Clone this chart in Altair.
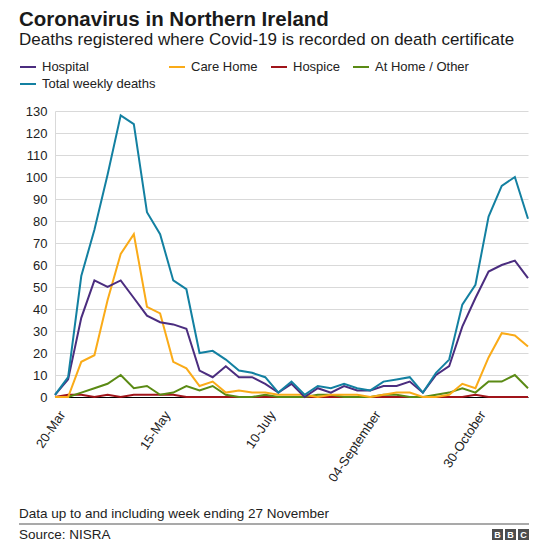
import altair as alt
import pandas as pd

# ---------------- data ----------------
weeks = [
    "2020-03-20", "2020-03-27", "2020-04-03", "2020-04-10", "2020-04-17", "2020-04-24",
    "2020-05-01", "2020-05-08", "2020-05-15", "2020-05-22", "2020-05-29", "2020-06-05",
    "2020-06-12", "2020-06-19", "2020-06-26", "2020-07-03", "2020-07-10", "2020-07-17",
    "2020-07-24", "2020-07-31", "2020-08-07", "2020-08-14", "2020-08-21", "2020-08-28",
    "2020-09-04", "2020-09-11", "2020-09-18", "2020-09-25", "2020-10-02", "2020-10-09",
    "2020-10-16", "2020-10-23", "2020-10-30", "2020-11-06", "2020-11-13", "2020-11-20",
    "2020-11-27",
]
hospital = [1, 8, 36, 53, 50, 53, 45, 37, 34, 33,
            31, 12, 9, 14, 9, 9, 6, 2, 6, 0,
            4, 2, 5, 3, 3, 5, 5, 7, 2, 10,
            14, 32, 45, 57, 60, 62, 54]
care_home = [0, 0, 16, 19, 44, 65, 74, 41, 38, 16,
             13, 5, 7, 2, 3, 2, 2, 1, 1, 1,
             0, 1, 1, 1, 0, 1, 2, 2, 0, 0,
             1, 6, 4, 18, 29, 28, 23]
hospice = [0, 1, 1, 0, 1, 0, 1, 1, 1, 1,
           0, 0, 0, 0, 0, 0, 0, 0, 0, 0,
           0, 0, 0, 0, 0, 0, 0, 0, 0, 0,
           0, 0, 1, 0, 0, 0, 0]
at_home = [0, 0, 2, 4, 6, 10, 4, 5, 1, 2,
           5, 3, 5, 1, 0, 0, 1, 0, 0, 0,
           1, 1, 0, 0, 0, 1, 1, 0, 0, 1,
           2, 4, 2, 7, 7, 10, 4]
total = [1, 9, 55, 76, 101, 128, 124, 84, 74, 53,
         49, 20, 21, 17, 12, 11, 9, 2, 7, 1,
         5, 4, 6, 4, 3, 7, 8, 9, 2, 11,
         17, 42, 51, 82, 96, 100, 81]

series_names = ["Hospital", "Care Home", "Hospice", "At Home / Other", "Total weekly deaths"]
series_colors = ["#4B2D7F", "#FAAB18", "#A0141A", "#5A8A14", "#1380A1"]
series_values = {
    "Hospital": hospital,
    "Care Home": care_home,
    "Hospice": hospice,
    "At Home / Other": at_home,
    "Total weekly deaths": total,
}
draw_order = ["Hospice", "At Home / Other", "Care Home", "Hospital", "Total weekly deaths"]

tick_dates = ["2020-03-20", "2020-05-15", "2020-07-10", "2020-09-04", "2020-10-30"]
tick_labels = ["20-Mar", "15-May", "10-July", "04-September", "30-October"]
y_ticks = list(range(0, 131, 10))

title_text = "Coronavirus in Northern Ireland"
subtitle_text = "Deaths registered where Covid-19 is recorded on death certificate"
note_text = "Data up to and including week ending 27 November"
source_text = "Source: NISRA"
logo_letters = ["B", "B", "C"]

# ---------------- build ----------------
rows = []
for s in draw_order:
    for w, v in zip(weeks, series_values[s]):
        rows.append({"week": w, "series": s, "value": v})
df = pd.DataFrame(rows)

FONT = "Liberation Sans"


def dt(iso):
    y, m, d = (int(p) for p in iso.split("-"))
    return alt.DateTime(year=y, month=m, date=d, utc=True)


label_expr = " : ".join(
    f"utcFormat(datum.value, '%Y-%m-%d') == '{d}' ? '{l}'" for d, l in zip(tick_dates, tick_labels)
) + " : ''"

W, H = 473, 286

lines = alt.Chart(df).mark_line(strokeWidth=2).encode(
    x=alt.X(
        "week:T",
        scale=alt.Scale(type="utc", domain=[dt(weeks[0]), dt(weeks[-1])], nice=False),
        axis=alt.Axis(
            title=None, values=[dt(d) for d in tick_dates], labelExpr=label_expr,
            labelAngle=-56, labelFontSize=13, labelFont=FONT, labelColor="#222222",
            ticks=False, grid=False, domainColor="#000000", domainWidth=1,
            labelPadding=15, labelOffset=7, labelOverlap=False, labelFlush=False,
        ),
    ),
    y=alt.Y(
        "value:Q",
        scale=alt.Scale(domain=[0, 130], nice=False),
        axis=alt.Axis(
            title=None, values=y_ticks, labelFontSize=13, labelFont=FONT,
            labelColor="#222222", ticks=False, labelPadding=8,
            gridColor="#d9d9d9", gridWidth=1, domainColor="#d9d9d9",
        ),
    ),
    color=alt.Color(
        "series:N",
        scale=alt.Scale(domain=series_names, range=series_colors),
        legend=alt.Legend(
            title=None, orient="none", legendX=-36, legendY=-53, direction="horizontal",
            columns=4, symbolType="stroke", symbolSize=256, symbolStrokeWidth=2,
            labelFontSize=13, labelFont=FONT, labelColor="#222222", labelOffset=5,
            columnPadding=9, rowPadding=1, padding=0,
        ),
    ),
)


def text_layer(txt, x, y, size, bold=False, color="#222222"):
    return alt.Chart(pd.DataFrame({"t": [txt]})).mark_text(
        align="left", baseline="alphabetic", font=FONT, fontSize=size,
        fontWeight="bold" if bold else "normal", color=color,
    ).encode(text="t:N", x=alt.value(x), y=alt.value(y))


layers = [
    lines,
    text_layer(title_text, -36, -85, 20.5, bold=True, color="#1a1a1a"),
    text_layer(subtitle_text, -36, -66, 17, color="#1a1a1a"),
    text_layer(note_text, -36, 407, 13.5),
    text_layer(source_text, -36, 428, 13.5),
    alt.Chart(pd.DataFrame({"a": [0]})).mark_rule(color="#555555", strokeWidth=1.2).encode(
        x=alt.value(-36), x2=alt.value(474), y=alt.value(413)
    ),
]
for i, letter in enumerate(logo_letters):
    x0 = 437 + i * 13
    layers.append(
        alt.Chart(pd.DataFrame({"a": [0]})).mark_rect(color="#4d4d4d").encode(
            x=alt.value(x0), x2=alt.value(x0 + 11), y=alt.value(418), y2=alt.value(429)
        )
    )
    layers.append(
        alt.Chart(pd.DataFrame({"t": [letter]})).mark_text(
            align="center", baseline="middle", font=FONT, fontSize=9, fontWeight="bold", color="white"
        ).encode(text="t:N", x=alt.value(x0 + 5.5), y=alt.value(424))
    )

chart = alt.layer(*layers).properties(
    width=W, height=H,
    autosize=alt.AutoSizeParams(type="none"),
    padding={"left": 47, "top": 103, "right": 10, "bottom": 144},
    background="white",
).configure_view(stroke=None)

chart.save("out.html", embed_options={"renderer": "svg", "actions": False})
